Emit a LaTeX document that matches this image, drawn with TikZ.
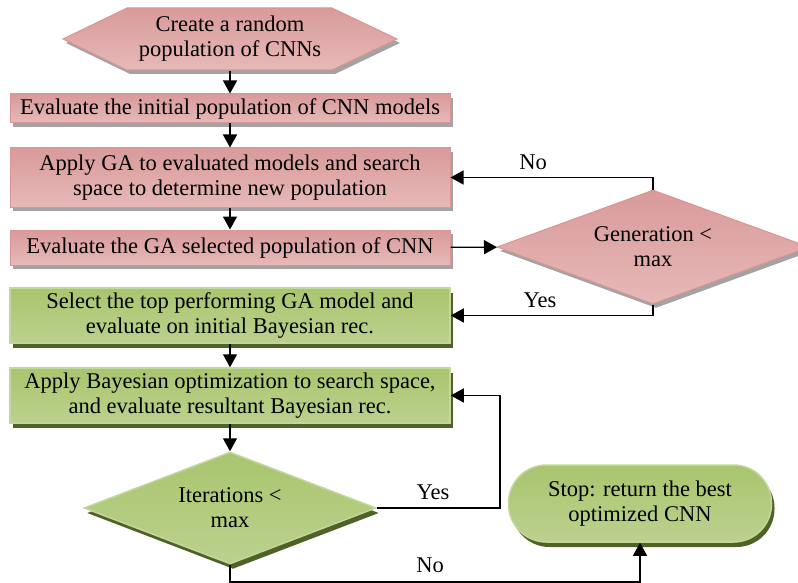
\documentclass[tikz,border=0pt]{standalone}
\usepackage{fontspec}
\setmainfont{Liberation Serif}
\usetikzlibrary{arrows.meta,shapes.geometric,shadows}
\definecolor{pinkline}{HTML}{D99694}
\definecolor{pinktop}{HTML}{D99A9A}
\definecolor{pinkmid}{HTML}{F4E0E0}
\definecolor{pinkbot}{HTML}{E6B9B8}
\definecolor{pinkshadow}{HTML}{A3A3A3}
\definecolor{greenline}{HTML}{C3D69B}
\definecolor{greentop}{HTML}{A9C56E}
\definecolor{greenmid}{HTML}{9BBB59}
\definecolor{greenbot}{HTML}{BBD18E}
\definecolor{greenshadow}{HTML}{4F6228}
\begin{document}
\begin{tikzpicture}[x=1pt,y=-1pt,line width=1.3pt,>={Triangle[length=13pt,width=14pt]},
  font=\fontsize{22.5}{25}\selectfont,
  redstyle/.style={draw=pinkline,line width=1pt,top color=pinktop,middle color=pinkmid,bottom color=pinkbot,
    general shadow={fill=pinkshadow,shadow xshift=3pt,shadow yshift=-4pt},align=center,inner sep=0pt},
  greenstyle/.style={draw=greenline,line width=1.5pt,top color=greentop,middle color=greenmid,bottom color=greenbot,
    general shadow={fill=greenshadow,shadow xshift=3pt,shadow yshift=-5pt},align=center,inner sep=0pt},
  redbox/.style={redstyle,rectangle,minimum width=440pt},
  greenbox/.style={greenstyle,rectangle,minimum width=440pt},
  reddiam/.style={redstyle,diamond,aspect=2.7,minimum width=312pt,minimum height=114pt},
  greendiam/.style={greenstyle,diamond,aspect=2.6,minimum width=292pt,minimum height=112pt},
  greenstop/.style={greenstyle,rectangle,rounded corners=38pt,minimum width=263pt,minimum height=77pt}]
\useasboundingbox (0,0) rectangle (798,583);
% GA part
\path[redstyle] (63,39) -- (127,8) -- (332,8) -- (397,39) -- (332,70) -- (127,70) -- cycle;
\node[align=center,minimum height=62pt,inner sep=0pt] (start) at (230,39) {Create a random\\population of CNNs};
\node[redbox,minimum height=29pt] (initeval) at (230,108.5) {Evaluate the initial population of CNN models};
\node[redbox,minimum height=59pt] (applyga) at (230,177.5) {Apply GA to evaluated models and search\\space to determine new population};
\node[redbox,minimum height=35pt] (gaeval) at (230,247.5) {Evaluate the GA selected population of CNN};
\node[reddiam] (gen) at (653,247) {Generation <\\max};
% Bayesian part
\node[greenbox,minimum height=55pt] (topga) at (230,315.5) {Select the top performing GA model and\\evaluate on initial Bayesian rec.};
\node[greenbox,minimum height=55pt] (bayes) at (230,395.5) {Apply Bayesian optimization to search space,\\and evaluate resultant Bayesian rec.};
\node[greendiam] (iter) at (230,508) {Iterations <\\max};
\node[greenstop] (stop) at (640,503.5) {Stop: return the best\\optimized CNN};
\coordinate (loop) at (500,0);
\coordinate (bottom) at (0,582);
\draw[->] (start) -- (initeval);
\draw[->] (initeval) -- (applyga);
\draw[->] (applyga) -- (gaeval);
\draw[->] (gaeval) -- (gen);
\draw[->] (gen.north) |- (applyga.east);
\draw[->] (gen.south) |- (topga.east);
\draw[->] (topga) -- (bayes);
\draw[->] (bayes) -- (iter);
\draw[->] (iter.east) -- (iter.east -| loop) |- (bayes.east);
\draw[->] (iter.south) |- (bottom -| stop.south) -- (stop.south);
\node (no1) at (533,162) {No};
\node (yes1) at (540,300) {Yes};
\node (yes2) at (433,492) {Yes};
\node (no2) at (430,565) {No};
\end{tikzpicture}
\end{document}
